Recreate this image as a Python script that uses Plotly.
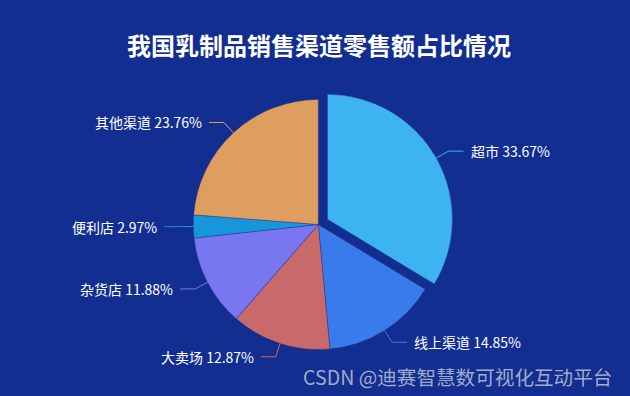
import math
import plotly.graph_objects as go

categories = ["超市", "线上渠道", "大卖场", "杂货店", "便利店", "其他渠道"]
shares = [33.67, 14.85, 12.87, 11.88, 2.97, 23.76]
colors = ["#3DB3F2", "#3A7BEC", "#C86A6A", "#7876F0", "#1796DC", "#DE9E60"]
pulls = [0.084, 0, 0, 0, 0, 0]

W, H = 630, 396
BG = "#132E91"
CX, CY = 318.3, 224.5      # pie centre (px)
R = 125.0                  # pie radius (px)
maxpull = max(pulls)
half = R * (1 + maxpull)   # half side of the pie domain

fig = go.Figure()
fig.add_trace(go.Pie(
    labels=categories,
    values=shares,
    sort=False,
    direction="clockwise",
    rotation=0,
    pull=pulls,
    marker=dict(colors=colors, line=dict(color="rgba(30,40,120,0.6)", width=0.6)),
    textinfo="none",
    hoverinfo="label+percent",
    showlegend=False,
    domain=dict(x=[(CX - half) / W, (CX + half) / W],
                y=[1 - (CY + half) / H, 1 - (CY - half) / H]),
))

def px2paper(x, y):
    return x / W, 1 - y / H

L1, L2, GAP = 14, 15, 5
total = sum(shares)
cum = 0.0
shapes, annotations = [], []
for cat, val, col, p in zip(categories, shares, colors, pulls):
    mid = (cum + val / 2) / total * 2 * math.pi
    cum += val
    dx, dy = math.sin(mid), -math.cos(mid)
    off = p * R
    x0, y0 = CX + (R + off) * dx, CY + (R + off) * dy
    x1, y1 = CX + (R + off + L1) * dx, CY + (R + off + L1) * dy
    sgn = 1 if dx >= 0 else -1
    x2, y2 = x1 + sgn * L2, y1
    pts = [px2paper(x0, y0), px2paper(x1, y1), px2paper(x2, y2)]
    path = "M {} {} L {} {} L {} {}".format(pts[0][0], pts[0][1], pts[1][0], pts[1][1], pts[2][0], pts[2][1])
    shapes.append(dict(type="path", xref="paper", yref="paper", path=path,
                       line=dict(color=col, width=1)))
    tx, ty = px2paper(x2 + sgn * GAP, y2)
    annotations.append(dict(
        x=tx, y=ty, xref="paper", yref="paper", showarrow=False,
        xanchor="left" if sgn > 0 else "right", yanchor="middle",
        text=f"{cat} {val:.2f}%",
        font=dict(color="#FFFFFF", size=14, family="Noto Sans CJK SC"),
    ))

annotations.append(dict(
    x=318.5 / W, y=1 - 44 / H, xref="paper", yref="paper", showarrow=False,
    xanchor="center", yanchor="middle",
    text="<b>我国乳制品销售渠道零售额占比情况</b>",
    font=dict(color="#FFFFFF", size=24, family="Noto Sans CJK SC"),
))
annotations.append(dict(
    x=614 / W, y=1 - 376 / H, xref="paper", yref="paper", showarrow=False,
    xanchor="right", yanchor="middle",
    text="CSDN @迪赛智慧数可视化互动平台",
    font=dict(color="rgba(200,205,220,0.8)", size=19.6, family="Noto Sans CJK SC"),
))

fig.update_layout(
    width=W, height=H, autosize=False,
    margin=dict(l=0, r=0, t=0, b=0),
    paper_bgcolor=BG, plot_bgcolor=BG,
    shapes=shapes, annotations=annotations,
)

fig.write_html("out.html", config={"displayModeBar": False},
               post_script="document.body.style.margin='0';document.body.style.overflow='hidden';")
